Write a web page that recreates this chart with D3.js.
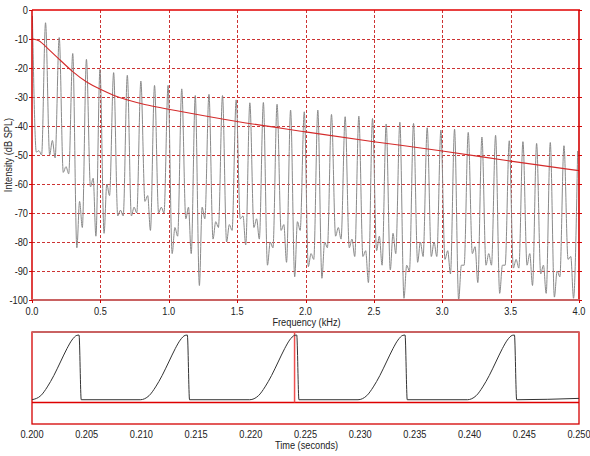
<!DOCTYPE html>
<html>
<head>
<meta charset="utf-8">
<script src="https://cdn.jsdelivr.net/npm/d3@7"></script>
<style>
body { margin: 0; background: #fff; }
text { font-family: "Liberation Sans Narrow", "Liberation Sans", Arial, sans-serif; font-size: 11px; fill: #222; }
</style>
</head>
<body>
<div class="chart"></div>
<script>
// ---- data ----
// spectrum: harmonic peaks (kHz, dB) and the dips between neighbouring peaks
const peakFreq = [0.003, 0.099, 0.199, 0.298, 0.398, 0.497, 0.597, 0.697, 0.796, 0.896,
  0.995, 1.095, 1.194, 1.294, 1.393, 1.493, 1.593, 1.692, 1.792, 1.891,
  1.991, 2.09, 2.19, 2.29, 2.39, 2.49, 2.59, 2.69, 2.79, 2.89,
  2.99, 3.09, 3.19, 3.29, 3.39, 3.49, 3.59, 3.69, 3.79, 3.89, 3.99]
const peakDb = [-2, -4.4, -9.5, -15, -17, -20.5, -21.6, -22.5, -24.5, -26,
  -26, -27.2, -29.5, -29.1, -29.5, -31, -32, -31.9, -32.5, -34.5,
  -35.1, -34.5, -36, -36.8, -36.6, -37.4, -39.3, -38.7, -39.1, -40.6,
  -41.4, -41.1, -42.2, -43.8, -43.2, -45.1, -45.4, -46, -45.7, -46.8, -48.6]
const dipLow1 = [-49, -50, -56, -82, -61, -77, -71, -71, -66, -70,
  -84, -72, -95, -79, -80, -72, -75, -88, -76, -92,
  -88.5, -92.5, -78, -82, -85, -83, -89.6, -99.4, -87, -85,
  -86, -100, -84, -88, -97.7, -89, -88, -91, -99, -86]
const dipBump = [-48.5, -45, -54, -66, -58, -60, -69, -68, -64, -68,
  -75, -68, -68, -73, -74, -71, -72, -80, -74, -73,
  -84, -80, -75, -79, -83, -78, -77, -88, -80, -80,
  -83, -88, -81.6, -84, -88, -86, -84, -88, -90, -85]
const dipLow2 = [-50, -51, -56.5, -75, -78, -64, -71, -70, -76, -70,
  -78, -84, -72, -75, -76, -81, -79, -82, -87, -76,
  -86, -82, -79, -85, -94, -88, -84, -90, -85, -85,
  -91, -88, -94, -88, -88, -89, -95, -97.7, -92, -99.4]

// smooth red envelope
const envFreq = [0, 0.05, 0.1, 0.2, 0.3, 0.4, 0.5, 0.6, 0.7, 0.8, 1.0, 1.5, 2.0, 2.5, 3.0, 3.5, 4.0]
const envDb = [-10, -10.3, -12.6, -17, -21.5, -25, -27.4, -29.6, -31.1, -32.4, -34.2, -38.6, -42, -45.5, -48.5, -52.2, -55.4]

const freqTicks = [0, 0.5, 1, 1.5, 2, 2.5, 3, 3.5, 4]
const dbTicks = [0, -10, -20, -30, -40, -50, -60, -70, -80, -90, -100]

// waveform: one glottal pulse shape, repeated at each pulse start
const pulseStart = [0.2000, 0.2099, 0.2199, 0.2298, 0.2398]
const pulseDt = [0, 0.0008, 0.0014, 0.0020, 0.0026, 0.0032, 0.00365, 0.0041, 0.0043, 0.0045]
const pulseAmp = [0.04, 0.1, 0.23, 0.4, 0.6, 0.8, 0.925, 0.995, 1, 0.04]
const waveEnd = [0.2500, 0.06]
const cursorTime = 0.2240
const timeTicks = [0.200, 0.205, 0.210, 0.215, 0.220, 0.225, 0.230, 0.235, 0.240, 0.245, 0.250]

// ---- layout ----
const width = 590, height = 456
const sp = {left: 32, right: 579, top: 10, bottom: 300}
const wv = {left: 32, right: 579, top: 332, bottom: 424}
const squeeze = 0.84   // narrow lettering like the original

const svg = d3.select(".chart").append("svg")
    .attr("width", width)
    .attr("height", height)

const xScale = d3.scaleLinear().domain([0, 4]).range([sp.left, sp.right])
const yScale = d3.scaleLinear().domain([-100, 0]).range([sp.bottom, sp.top])
const tScale = d3.scaleLinear().domain([0.200, 0.250]).range([wv.left, wv.right])
const aScale = d3.scaleLinear().domain([-0.32, 1]).range([wv.bottom, 335])

const px = v => Math.round(v) + 0.5
const at = (x, y) => `translate(${x},${y}) scale(${squeeze},1)`

// ---- spectrum grid ----
svg.append("g").selectAll("line")
    .data(dbTicks.filter(d => d > -100 && d < 0))
    .join("line")
    .attr("x1", sp.left).attr("x2", sp.right)
    .attr("y1", d => px(yScale(d))).attr("y2", d => px(yScale(d)))
    .attr("stroke", "#cc3333").attr("stroke-dasharray", "3,2")

svg.append("g").selectAll("line")
    .data(freqTicks.filter(d => d > 0 && d < 4))
    .join("line")
    .attr("x1", d => px(xScale(d))).attr("x2", d => px(xScale(d)))
    .attr("y1", sp.top).attr("y2", sp.bottom)
    .attr("stroke", "#cc3333").attr("stroke-dasharray", "3,2")

svg.append("clipPath").attr("id", "clipSp")
    .append("rect")
    .attr("x", sp.left).attr("y", sp.top)
    .attr("width", sp.right - sp.left).attr("height", sp.bottom - sp.top)

// gray spectrum
const specPts = []
peakFreq.forEach((f, i) => {
    specPts.push([f, peakDb[i]])
    if (i < dipLow1.length) {
        const step = peakFreq[i + 1] - f
        specPts.push([f + 0.3 * step, dipLow1[i]], [f + 0.5 * step, dipBump[i]], [f + 0.7 * step, dipLow2[i]])
    }
})

const specLine = d3.line()
    .x(d => xScale(d[0]))
    .y(d => yScale(d[1]))
    .curve(d3.curveMonotoneX)

svg.append("path")
    .datum(specPts)
    .attr("clip-path", "url(#clipSp)")
    .attr("fill", "none")
    .attr("stroke", "#8a8a8a")
    .attr("stroke-width", 1)
    .attr("d", specLine)

svg.append("path")
    .datum(envFreq.map((f, i) => [f, envDb[i]]))
    .attr("fill", "none")
    .attr("stroke", "#d42a2a")
    .attr("stroke-width", 1.1)
    .attr("d", specLine.curve(d3.curveBasis))

// frame
svg.append("line").attr("x1", sp.left).attr("x2", sp.right + 1)
    .attr("y1", sp.top).attr("y2", sp.top).attr("stroke", "#e00000").attr("stroke-width", 1.6)
svg.append("line").attr("x1", sp.left).attr("x2", sp.left)
    .attr("y1", sp.top).attr("y2", sp.bottom).attr("stroke", "#d40000").attr("stroke-width", 1.5)
svg.append("line").attr("x1", sp.right).attr("x2", sp.right)
    .attr("y1", sp.top).attr("y2", sp.bottom).attr("stroke", "#d40000").attr("stroke-width", 1.6)
svg.append("line").attr("x1", sp.left - 1).attr("x2", sp.right + 1)
    .attr("y1", sp.bottom).attr("y2", sp.bottom).attr("stroke", "#c96262").attr("stroke-width", 2.2)

// y ticks and labels
const yt = svg.append("g").selectAll("g").data(dbTicks).join("g")
yt.append("line")
    .attr("x1", sp.left - 3).attr("x2", sp.left)
    .attr("y1", d => px(yScale(d))).attr("y2", d => px(yScale(d)))
    .attr("stroke", "#d40000")
yt.append("line")
    .attr("x1", sp.right).attr("x2", sp.right + 3)
    .attr("y1", d => px(yScale(d))).attr("y2", d => px(yScale(d)))
    .attr("stroke", "#d40000")
yt.append("text")
    .attr("transform", d => at(sp.left - 4, yScale(d)))
    .attr("dy", "0.35em")
    .attr("text-anchor", "end")
    .text(d => d)

// x ticks and labels
const xt = svg.append("g").selectAll("g").data(freqTicks).join("g")
xt.append("line")
    .attr("x1", d => px(xScale(d))).attr("x2", d => px(xScale(d)))
    .attr("y1", sp.bottom).attr("y2", sp.bottom + 3)
    .attr("stroke", "#d40000")
xt.append("text")
    .attr("transform", d => at(xScale(d), 311.5))
    .attr("dy", "0.35em")
    .attr("text-anchor", "middle")
    .text(d => d3.format(".1f")(d))

svg.append("text")
    .attr("transform", at((sp.left + sp.right) / 2 + 1, 322.5))
    .attr("dy", "0.35em")
    .attr("text-anchor", "middle")
    .text("Frequency (kHz)")

svg.append("text")
    .attr("transform", `translate(8,${(sp.top + sp.bottom) / 2}) rotate(-90) scale(${squeeze},1)`)
    .attr("dy", "0.35em")
    .attr("text-anchor", "middle")
    .text("Intensity (dB SPL)")

// ---- waveform ----
const wavePts = []
pulseStart.forEach(t0 => {
    pulseDt.forEach((dt, j) => wavePts.push([t0 + dt, pulseAmp[j]]))
})
wavePts.push(waveEnd)

const waveLine = d3.line()
    .x(d => tScale(d[0]))
    .y(d => aScale(d[1]))
    .curve(d3.curveMonotoneX)

svg.append("rect")
    .attr("x", wv.left).attr("y", wv.top)
    .attr("width", wv.right - wv.left).attr("height", wv.bottom - wv.top)
    .attr("fill", "none").attr("stroke", "#d40000").attr("stroke-width", 1.3)
svg.append("line").attr("x1", wv.left).attr("x2", wv.right)
    .attr("y1", wv.top).attr("y2", wv.top).attr("stroke", "#c96262").attr("stroke-width", 2)

svg.append("line")
    .attr("x1", wv.left).attr("x2", wv.right)
    .attr("y1", aScale(0)).attr("y2", aScale(0))
    .attr("stroke", "#dd0000").attr("stroke-width", 1.5)

svg.append("line")
    .attr("x1", tScale(cursorTime)).attr("x2", tScale(cursorTime))
    .attr("y1", wv.top).attr("y2", aScale(0))
    .attr("stroke", "#ee5050").attr("stroke-width", 1.5)

svg.append("path")
    .datum(wavePts)
    .attr("fill", "none")
    .attr("stroke", "#333")
    .attr("stroke-width", 1)
    .attr("d", waveLine)

svg.append("g").selectAll("text").data(timeTicks).join("text")
    .attr("transform", d => at(tScale(d), 434.5))
    .attr("dy", "0.35em")
    .attr("text-anchor", "middle")
    .text(d => d3.format(".3f")(d))

svg.append("text")
    .attr("transform", at((wv.left + wv.right) / 2 + 1, 445))
    .attr("dy", "0.35em")
    .attr("text-anchor", "middle")
    .text("Time (seconds)")
</script>
</body>
</html>
